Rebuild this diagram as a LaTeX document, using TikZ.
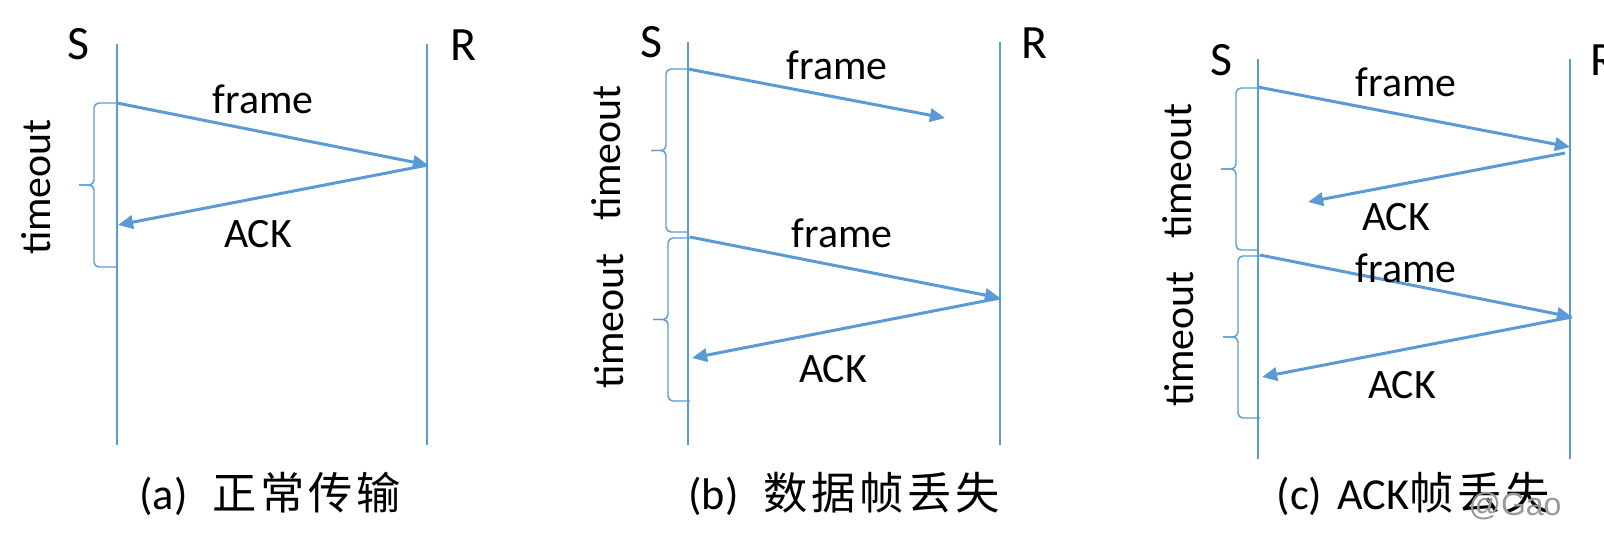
\documentclass[tikz,border=0pt]{standalone}
\usepackage{fontspec}
\setmainfont{Carlito}
\newfontfamily\cjk[LetterSpace=8]{Noto Sans CJK SC}
\newfontfamily\markfont{Liberation Sans}
\usetikzlibrary{arrows.meta}
\definecolor{lineblue}{HTML}{5B9BD5}

\tikzset{
 life/.style={lineblue,line width=0.45pt},
 msg/.style={lineblue,line width=0.85pt,-{Triangle[length=4.3pt,width=3.8pt]}},
 tobrace/.style={lineblue,line width=0.4pt,rounded corners=1.4pt},
 lbl/.style={font=\fontsize{11.9}{14.3}\selectfont,anchor=base,inner sep=0pt},
 side/.style={font=\fontsize{13.6}{16.3}\selectfont,anchor=base,inner sep=0pt},
 tmo/.style={lbl,rotate=90},
 captext/.style={font=\fontsize{12.6}{15.1}\selectfont,anchor=base,inner sep=0pt},
}

\begin{document}
\begin{tikzpicture}[x=0.01cm,y=-0.01cm]
 \clip (0,0) rectangle (1604,545);
 \fill[white] (0,0) rectangle (1604,545);
 % lifelines
 \foreach \x/\t/\b in {117/44/445,427/44/445,688/42/445,1000/42/445,1258/59/459,1570/59/459}
   {\draw[life] (\x,\t)--(\x,\b);}
 % timeout braces
 \foreach \x/\t/\b/\r in {94/103/267/117,666/69/232/688,668/238/401/690,1236/88/250/1258,1238/256/418/1260} {
   \pgfmathsetmacro{\m}{(\t+\b)/2}
   \draw[tobrace] (\r,\t)--(\x,\t)--(\x,\m)--(\x-15,\m);
   \draw[tobrace] (\x-15,\m)--(\x,\m)--(\x,\b)--(\r,\b);
 }
 % (a) normal
 \node[side] (aS) at (78.5,59) {S};
 \node[side] (aR) at (463,60) {R};
 \coordinate (aS1) at (117,103);
 \coordinate (aR1) at (428,165);
 \coordinate (aS2) at (118,225);
 \draw[msg] (aS1)--(aR1);
 \draw[msg] (aR1)--(aS2);
 \node[lbl] (aF) at (263,113) {frame};
 \node[lbl] (aA) at (258,247) {ACK};
 \node[tmo] (aT) at (50,187) {timeout};
 \node[captext] (capA) at (270,509) {(a)\hspace{0.15cm} {\cjk 正常传输}};
 % (b) frame lost
 \node[side] (bS) at (651,57) {S};
 \node[side] (bR) at (1034,58) {R};
 \coordinate (bS1) at (688,69);
 \coordinate (bX) at (945,118);
 \coordinate (bS2) at (690,237);
 \coordinate (bR2) at (1000,298);
 \coordinate (bS3) at (692,358);
 \draw[msg] (bS1)--(bX);
 \draw[msg] (bS2)--(bR2);
 \draw[msg] (bR2)--(bS3);
 \node[lbl] (bF1) at (837,79) {frame};
 \node[lbl] (bF2) at (842,247) {frame};
 \node[lbl] (bA) at (833,382) {ACK};
 \node[tmo] (bT1) at (620,153) {timeout};
 \node[tmo] (bT2) at (623,321) {timeout};
 \node[captext] (capB) at (844,509) {(b)\hspace{0.15cm} {\cjk 数据帧丢失}};
 % (c) ACK lost
 \node[side] (cS) at (1221,75) {S};
 \node[side,anchor=base west] (cR) at (1590,75) {R};
 \coordinate (cS1) at (1258,87);
 \coordinate (cR1) at (1570,147);
 \coordinate (cR1b) at (1565,153);
 \coordinate (cX) at (1308,202);
 \coordinate (cS2) at (1260,255);
 \coordinate (cR2) at (1572,317);
 \coordinate (cS3) at (1262,377);
 \draw[msg] (cS1)--(cR1);
 \draw[msg] (cR1b)--(cX);
 \draw[msg] (cS2)--(cR2);
 \draw[msg] (cR2)--(cS3);
 \node[lbl] (cF1) at (1406,96) {frame};
 \node[lbl] (cA1) at (1396,230) {ACK};
 \node[lbl] (cF2) at (1406,282) {frame};
 \node[lbl] (cA2) at (1402,398) {ACK};
 \node[tmo] (cT1) at (1191,171) {timeout};
 \node[tmo] (cT2) at (1193,339) {timeout};
 \node[captext] (capC) at (1413,509) {(c)\hspace{0.05cm} ACK{\cjk 帧丢失}};
 \node[anchor=base,inner sep=0pt,text=black!40,font=\markfont\fontsize{9.1}{11}\selectfont] (mark) at (1515,515) {@Gao};
\end{tikzpicture}
\end{document}
